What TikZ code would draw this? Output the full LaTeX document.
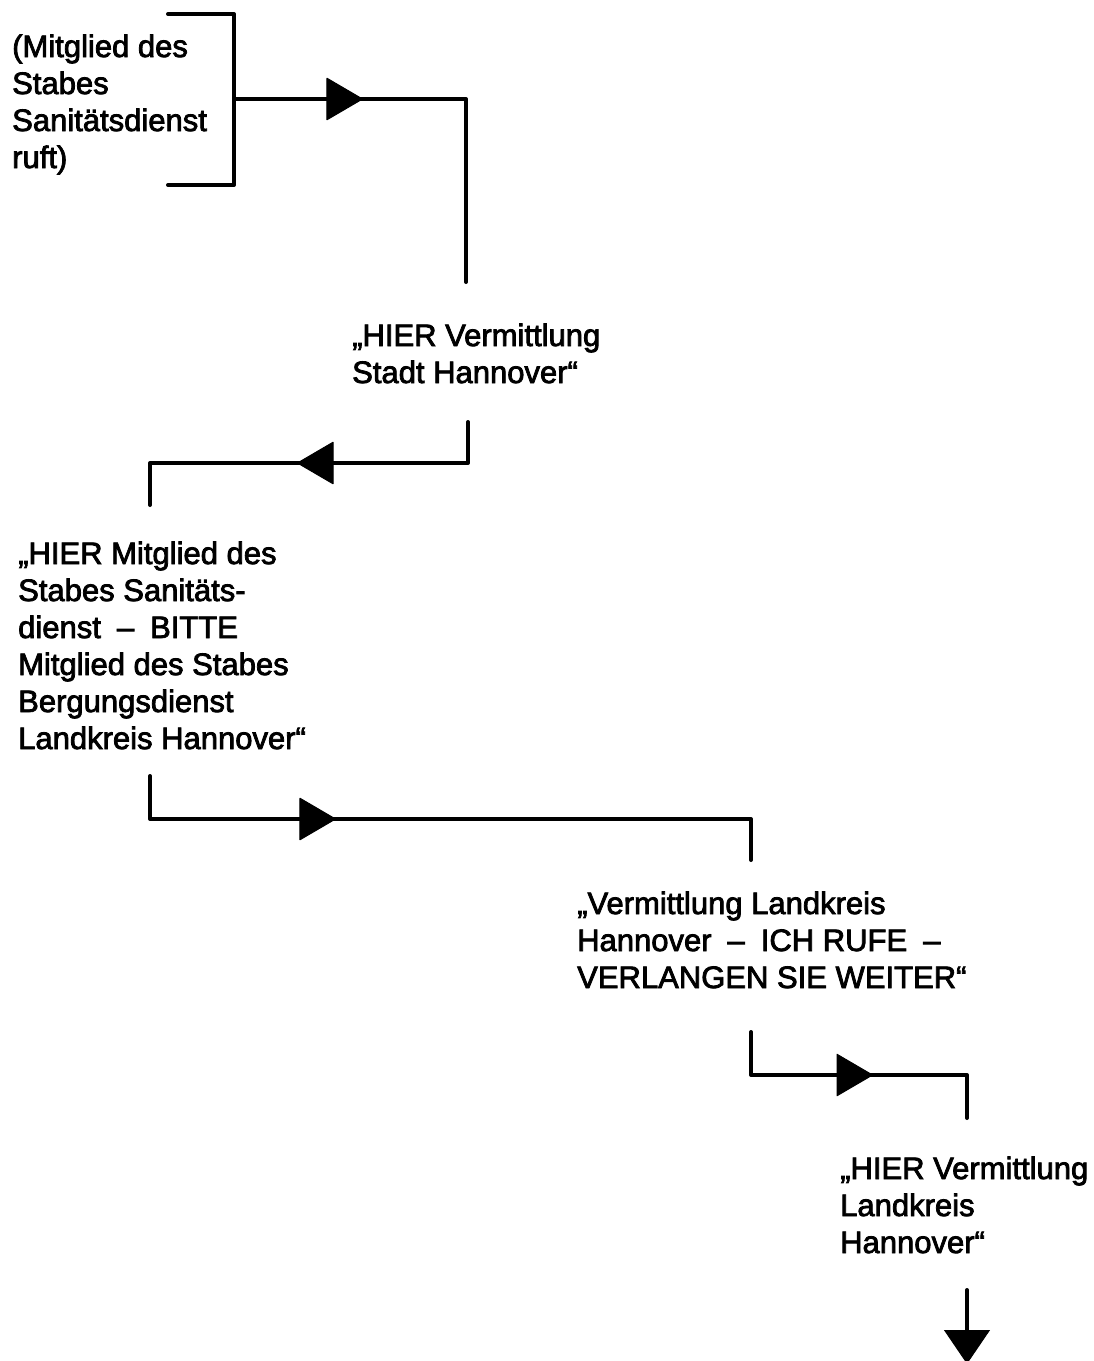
\documentclass[tikz,border=0pt]{standalone}
\usepackage{fontspec}
\setmainfont[FakeBold=2.5]{Liberation Sans}
\usetikzlibrary{arrows.meta}
\newcommand{\gapdash}{\hspace{16pt}–\hspace{16pt}}
\begin{document}
\begin{tikzpicture}[x=1pt,y=-1pt,
  msg/.style={anchor=base west, inner sep=0pt, align=left,
    font=\fontsize{31}{37}\selectfont},
  wire/.style={line width=4pt, line join=round, line cap=round},
  head/.style={-{Triangle[length=37pt,width=43pt,round]}, line width=1pt}]
\useasboundingbox (0,0) rectangle (1094,1361);
\fill[white] (0,0) rectangle (1094,1361);

% message texts, placed by the baseline of their last line
\node[msg] (caller) at (12,168) {(Mitglied des\\Stabes\\Sanitätsdienst\\ruft)};
\node[msg] (city) at (352,383) {„HIER Vermittlung\\Stadt Hannover“};
\node[msg] (staff) at (18,749) {„HIER Mitglied des\\Stabes Sanitäts-\\dienst\gapdash BITTE\\Mitglied des Stabes\\Bergungsdienst\\Landkreis Hannover“};
\node[msg] (county) at (577,988) {„Vermittlung Landkreis\\Hannover\gapdash ICH RUFE\gapdash\\VERLANGEN SIE WEITER“};
\node[msg] (reply) at (840,1253) {„HIER Vermittlung\\Landkreis\\Hannover“};

% free ends of the connectors
\coordinate (b1) at (168,14);
\coordinate (b2) at (168,185);
\coordinate (m1) at (234,99);
\coordinate (e1) at (466,282);
\coordinate (s2) at (468,422);
\coordinate (e2) at (150,505);
\coordinate (s3) at (150,776);
\coordinate (e3) at (751,860);
\coordinate (s4) at (751,1032);
\coordinate (e4) at (967,1118);
\coordinate (s5) at (967,1290);
\coordinate (e5) at (967,1364);

% bracket round the caller
\draw[wire] (b1) -| (m1) |- (b2);

% connectors
\draw[wire] (m1) -- (m1 -| e1) -- (e1);
\draw[head] (326,99) -- (363,99);

\draw[wire] (s2) -- (s2 |- 0,463) -- (e2 |- 0,463) -- (e2);
\draw[head] (334,463) -- (297,463);

\draw[wire] (s3) -- (s3 |- 0,819) -- (e3 |- 0,819) -- (e3);
\draw[head] (299,819) -- (336,819);

\draw[wire] (s4) -- (s4 |- 0,1075) -- (e4 |- 0,1075) -- (e4);
\draw[head] (836,1075) -- (873,1075);

\draw[wire] (s5) -- (967,1330);
\draw[-{Triangle[length=34pt,width=46pt]}, line width=1pt] (967,1327) -- (e5);
\end{tikzpicture}
\end{document}
